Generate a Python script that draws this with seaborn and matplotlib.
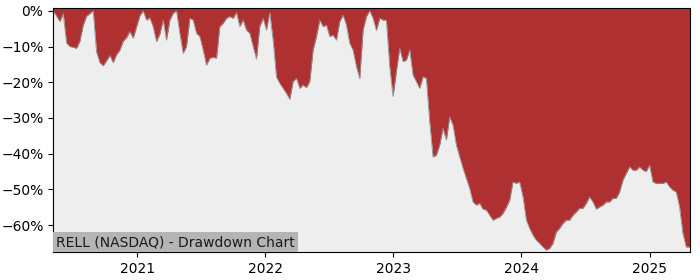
import numpy as np
import pandas as pd
import matplotlib
matplotlib.use("Agg")
import matplotlib.pyplot as plt
import matplotlib.dates as mdates
from matplotlib.ticker import PercentFormatter
import seaborn as sns

# ---- data ----
title_text = "RELL (NASDAQ) - Drawdown Chart"
start_date = "2020-05-06"
end_date = "2025-04-24"

# drawdown in percent, sampled at regular intervals between start_date and end_date
dd_2020 = [0, -1.5, -3.0, -0.8, -9.0, -10.0, -10.2, -10.5, -8.5, -4.0,
           -1.5, -0.8, 0, -11.5, -14.5, -15.4, -14.0, -12.5, -14.5, -12.3,
           -11.0, -8.5, -7.5, -5.8, -7.7, -4.5]
dd_2021 = [-1.4, 0, -2.6, -2.0, -4.5, -8.6, -6.5, -2.6, -8.2, -2.6,
           -0.7, 0, -6.3, -11.9, -10.0, -2.1, -2.6, -6.3, -7.2, -11.0,
           -15.2, -13.3, -13.0, -13.3, -4.4, -3.5, -2.1, -1.6, -2.1, -0.5,
           -4.4, -2.6, -5.4, -6.3, -10.0, -13.5, -4.4, -2.1, -5.4, -0.5]
dd_2022 = [-8.2, -18.5, -20.3, -21.7, -23.1, -24.8, -19.8, -18.9, -21.7, -20.8,
           -21.5, -19.8, -11.0, -7.2, -2.6, -4.4, -4.0, -7.2, -6.8, -8.2,
           -3.0, -1.2, -4.0, -9.1, -11.0, -15.6, -19.0, -5.4, -1.6, 0,
           -2.1, -5.5, -2.1, -2.6, -2.6, -15.6, -24.0, -17.0]
dd_2023 = [-10.5, -14.2, -13.8, -11.0, -18.0, -19.8, -21.7, -18.5, -18.9, -31.0,
           -40.9, -40.4, -37.6, -32.9, -36.2, -29.7, -32.0, -37.6, -40.9, -44.1,
           -46.9, -49.7, -53.5, -54.4, -53.9, -55.5, -55.8, -57.2, -58.6, -58.1,
           -57.7, -56.7, -55.0, -53.0, -47.9, -48.3, -47.9, -52.0]
dd_2024 = [-58.5, -60.9, -62.8, -64.2, -65.1, -66.1, -67.0, -66.5, -65.1, -61.9,
           -60.9, -59.5, -58.6, -58.6, -57.2, -56.3, -55.3, -55.3, -53.9, -52.1,
           -53.5, -55.5, -54.9, -54.4, -53.5, -53.5, -52.5, -52.5, -50.7, -47.4,
           -45.5, -43.7, -44.6, -44.6, -43.7, -44.6, -45.0, -43.2]
dd_2025 = [-47.9, -48.3, -48.3, -48.3, -47.9, -49.3, -50.2, -50.7, -54.9, -62.3,
           -66.1, -66.1]

drawdown = dd_2020 + dd_2021 + dd_2022 + dd_2023 + dd_2024 + dd_2025
dates = pd.date_range(start_date, end_date, periods=len(drawdown))
df = pd.DataFrame({"date": dates, "drawdown": drawdown})

# ---- style ----
fill_color = "#AF3030"
bg_color = "#EEEEEE"
edge_color = "#909090"
y_bottom, y_top = -67.6, 0.9

sns.set_style("ticks")
plt.rcParams["font.family"] = ["DejaVu Sans"]

fig = plt.figure(figsize=(7, 2.8), dpi=100)
ax = fig.add_axes([0.076, 0.099, 0.909, 0.874])
ax.set_facecolor(bg_color)

ax.fill_between(df["date"], df["drawdown"], y_top, color=fill_color, linewidth=0, zorder=2)
sns.lineplot(data=df, x="date", y="drawdown", ax=ax, color=edge_color,
             linewidth=0.6, zorder=3)

ax.set_xlim(df["date"].iloc[0], df["date"].iloc[-1])
ax.set_ylim(y_bottom, y_top)
ax.set_yticks([0, -10, -20, -30, -40, -50, -60])
ax.yaxis.set_major_formatter(PercentFormatter(xmax=100, decimals=0))
ax.xaxis.set_major_locator(mdates.YearLocator())
ax.xaxis.set_major_formatter(mdates.DateFormatter("%Y"))
ax.set_xlabel("")
ax.set_ylabel("")
ax.tick_params(labelsize=10, colors="black", length=3.5, width=0.8)

for s in ax.spines.values():
    s.set_color("black")
    s.set_linewidth(0.8)
    s.set_zorder(5)

ax.text(0.0045, 0.012, title_text, transform=ax.transAxes, fontsize=10,
        color="#1a1a1a", ha="left", va="bottom", zorder=6,
        bbox=dict(facecolor="#B4B4B4", edgecolor="none", pad=2.2))

fig.savefig("out.png", dpi=100)
